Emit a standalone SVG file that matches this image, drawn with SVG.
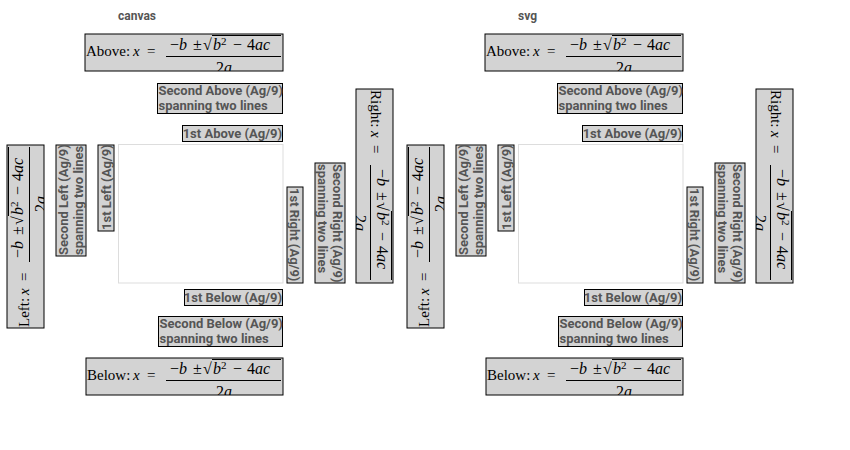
<svg xmlns="http://www.w3.org/2000/svg" xmlns:xlink="http://www.w3.org/1999/xlink" width="850" height="450" viewBox="0 0 850 450">
<style>
  .title { font-family: Roboto, "Liberation Sans", sans-serif; font-weight: bold; font-size: 12px; fill: #555; }
  .plot { fill: #ffffff; stroke: #dddddd; stroke-width: 1; }
  .box { fill: #d3d3d3; stroke: #000000; stroke-width: 1; }
  .lbl { font-family: Roboto, "Liberation Sans", sans-serif; font-weight: bold; font-size: 13px; fill: #555; }
  .math { font-family: "Liberation Serif", "DejaVu Serif", serif; font-size: 15px; fill: #000; }
  .fr { font-size: 16px; }
  .it { font-style: italic; }
  .rule { stroke: #000; stroke-width: 1; }
</style>
<defs>
  <clipPath id="clipA" clipPathUnits="userSpaceOnUse"><rect x="0" y="0" width="198" height="37"/></clipPath>
  <clipPath id="clipB" clipPathUnits="userSpaceOnUse"><rect x="0" y="0" width="197" height="37"/></clipPath>
  <clipPath id="clipL" clipPathUnits="userSpaceOnUse"><rect x="0" y="0" width="183" height="37"/></clipPath>
  <clipPath id="clipR" clipPathUnits="userSpaceOnUse"><rect x="0" y="0" width="194" height="37"/></clipPath>
  <g id="frac" class="math fr">
    <text y="16"><tspan x="4">−</tspan><tspan x="13" class="it">b</tspan><tspan x="27">±</tspan><tspan x="37">√</tspan><tspan x="47" class="it">b</tspan><tspan x="55" y="11" font-size="11">2</tspan><tspan x="67" y="16">−</tspan><tspan x="81">4</tspan><tspan x="89" class="it">ac</tspan></text>
    <line class="rule" x1="46" y1="1.5" x2="115" y2="1.5"/>
    <line class="rule" x1="0" y1="22.5" x2="115" y2="22.5"/>
    <text x="58" y="38.5" text-anchor="middle">2<tspan class="it">a</tspan></text>
  </g>
  <g id="panel">
    <rect class="plot" x="118.5" y="144.5" width="164.5" height="138.5"/>
    <g id="above-formula" transform="translate(85,34)">
      <rect class="box" x="0" y="0" width="198" height="37"/>
      <g clip-path="url(#clipA)">
        <text class="math" x="1" y="22">Above:</text>
        <text class="math it" x="48" y="22">x</text>
        <text class="math" x="62" y="22">=</text>
        <use xlink:href="#frac" href="#frac" x="81" y="0"/>
      </g>
    </g>
    <g id="second-above">
      <rect class="box" x="157.5" y="83.5" width="125" height="30"/>
      <text class="lbl" x="158.5" y="95">Second Above (Ag/9)</text>
      <text class="lbl" x="158.5" y="110">spanning two lines</text>
    </g>
    <g id="first-above">
      <rect class="box" x="182.5" y="125.5" width="100" height="16"/>
      <text class="lbl" x="282" y="138" text-anchor="end">1st Above (Ag/9)</text>
    </g>
    <g id="first-below">
      <rect class="box" x="184.5" y="289.5" width="98" height="16"/>
      <text class="lbl" x="282" y="302" text-anchor="end">1st Below (Ag/9)</text>
    </g>
    <g id="second-below">
      <rect class="box" x="158.5" y="316.5" width="124" height="30"/>
      <text class="lbl" x="159.5" y="328">Second Below (Ag/9)</text>
      <text class="lbl" x="159.5" y="343">spanning two lines</text>
    </g>
    <g id="below-formula" transform="translate(86,358)">
      <rect class="box" x="0" y="0" width="197" height="37"/>
      <g clip-path="url(#clipB)">
        <text class="math" x="1" y="22">Below:</text>
        <text class="math it" x="47" y="22">x</text>
        <text class="math" x="61" y="22">=</text>
        <use xlink:href="#frac" href="#frac" x="80" y="0"/>
      </g>
    </g>
    <g id="left-formula" transform="translate(7,328) rotate(-90)">
      <rect class="box" x="0" y="0" width="183" height="37"/>
      <g clip-path="url(#clipL)">
        <text class="math" x="1" y="22">Left:</text>
        <text class="math it" x="33" y="22">x</text>
        <text class="math" x="47" y="22">=</text>
        <use xlink:href="#frac" href="#frac" x="66" y="0"/>
      </g>
    </g>
    <g id="second-left" transform="translate(56,256) rotate(-90)">
      <rect class="box" x="0" y="0" width="111" height="30"/>
      <text class="lbl" x="1" y="12">Second Left (Ag/9)</text>
      <text class="lbl" x="1" y="27">spanning two lines</text>
    </g>
    <g id="first-left" transform="translate(98,231) rotate(-90)">
      <rect class="box" x="0" y="0" width="86" height="16"/>
      <text class="lbl" x="1" y="13">1st Left (Ag/9)</text>
    </g>
    <g id="first-right" transform="translate(303,187) rotate(90)">
      <rect class="box" x="0" y="0" width="96" height="16"/>
      <text class="lbl" x="1" y="13">1st Right (Ag/9)</text>
    </g>
    <g id="second-right" transform="translate(345,163) rotate(90)">
      <rect class="box" x="0" y="0" width="120" height="30"/>
      <text class="lbl" x="1" y="12">Second Right (Ag/9)</text>
      <text class="lbl" x="1" y="27">spanning two lines</text>
    </g>
    <g id="right-formula" transform="translate(393,89) rotate(90)">
      <rect class="box" x="0" y="0" width="194" height="37"/>
      <g clip-path="url(#clipR)">
        <text class="math" x="1" y="22">Right:</text>
        <text class="math it" x="42" y="22">x</text>
        <text class="math" x="56" y="22">=</text>
        <use xlink:href="#frac" href="#frac" x="76" y="0"/>
      </g>
    </g>
  </g>
</defs>
<g id="canvas-panel">
  <text class="title" x="118" y="20">canvas</text>
  <use xlink:href="#panel" href="#panel"/>
</g>
<g id="svg-panel" transform="translate(400,0)">
  <text class="title" x="118" y="20">svg</text>
  <use xlink:href="#panel" href="#panel"/>
</g>
</svg>
